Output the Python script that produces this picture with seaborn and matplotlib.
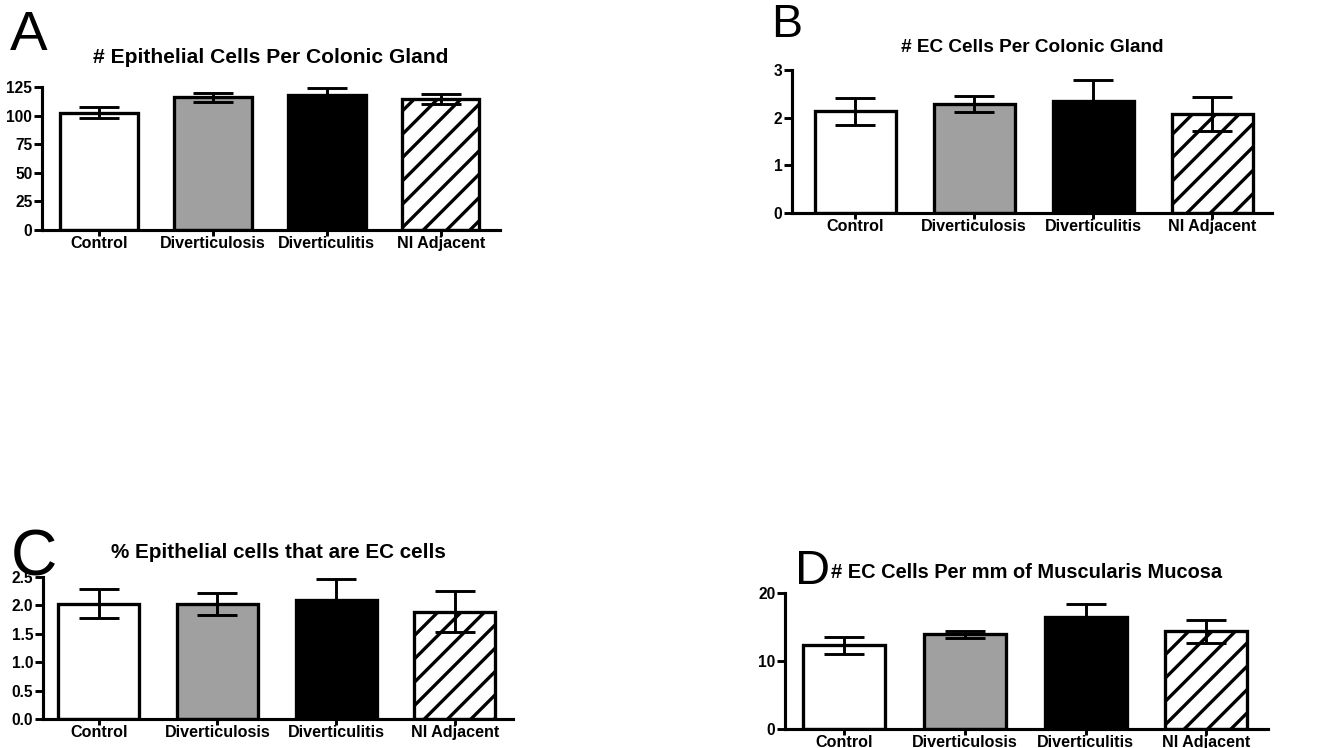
import numpy as np
import pandas as pd
import matplotlib
matplotlib.use("Agg")
import matplotlib.pyplot as plt
import seaborn as sns

# data (mean and error bar half-length)
groups = ["Control", "Diverticulosis", "Diverticulitis", "NI Adjacent"]
bar_colors = ["white", "#a0a0a0", "black", "white"]

epi_mean = [102.5, 116.0, 118.0, 114.5]
epi_err = [5.0, 4.0, 6.0, 4.2]

ec_mean = [2.13, 2.29, 2.36, 2.07]
ec_err = [0.28, 0.17, 0.43, 0.36]

pct_mean = [2.03, 2.02, 2.09, 1.89]
pct_err = [0.26, 0.19, 0.38, 0.36]

mm_mean = [12.3, 13.93, 16.4, 14.37]
mm_err = [1.2, 0.5, 1.95, 1.7]

titles = ["# Epithelial Cells Per Colonic Gland",
          "# EC Cells Per Colonic Gland",
          "% Epithelial cells that are EC cells",
          "# EC Cells Per mm of Muscularis Mucosa"]
yticks = [[0, 25, 50, 75, 100, 125], [0, 1, 2, 3],
          [0.0, 0.5, 1.0, 1.5, 2.0, 2.5], [0, 10, 20]]
ytick_labels = [["0", "25", "50", "75", "100", "125"], ["0", "1", "2", "3"],
                ["0.0", "0.5", "1.0", "1.5", "2.0", "2.5"], ["0", "10", "20"]]
letters = ["A", "B", "C", "D"]

sns.set_style("ticks")
plt.rcParams["font.family"] = ["Liberation Sans", "DejaVu Sans"]
plt.rcParams["hatch.linewidth"] = 1.7
for k in ["text.color", "axes.labelcolor", "xtick.color", "ytick.color",
          "axes.edgecolor"]:
    plt.rcParams[k] = "black"

W, H, DPI = 1339, 748, 140
fig = plt.figure(figsize=(W / DPI, H / DPI), dpi=DPI)

# axes boxes in pixels: left, top, right, bottom
boxes = [(42, 87, 500, 230), (792, 70, 1272, 213),
         (43, 577, 513, 719), (785, 593, 1268, 729)]
xlims = [(-0.5, 3.52), (-0.53, 3.5), (-0.47, 3.49), (-0.49, 3.51)]
title_pads = [12.3, 9.3, 9.8, 7.7]
title_sizes = [10.8, 9.8, 10.6, 10.3]
# letter: x px, baseline px, size pt
letter_pos = [(10, 50, 29), (771, 37, 24), (11, 576, 33), (795, 584, 25)]

means = [epi_mean, ec_mean, pct_mean, mm_mean]
errs = [epi_err, ec_err, pct_err, mm_err]

for i in range(4):
    l, t, r, b = boxes[i]
    ax = fig.add_axes([l / W, 1 - b / H, (r - l) / W, (b - t) / H])
    df = pd.DataFrame({"group": groups, "value": means[i]})
    sns.barplot(data=df, x="group", y="value", hue="group", palette=bar_colors,
                legend=False, width=0.68, edgecolor="black", linewidth=1.7,
                errorbar=None, ax=ax)
    ax.patches[3].set_hatch("//")
    ax.errorbar(x=np.arange(4), y=means[i], yerr=errs[i], fmt="none",
                ecolor="black", elinewidth=1.5, capsize=10.3, capthick=1.5,
                zorder=5)
    ax.set_xlim(*xlims[i])
    ax.set_ylim(yticks[i][0], yticks[i][-1])
    ax.set_yticks(yticks[i])
    ax.set_yticklabels(ytick_labels[i], fontsize=8, fontweight="bold")
    ax.set_xticks(range(4))
    ax.set_xticklabels(groups, fontsize=8.3, fontweight="bold")
    ax.set_xlabel("")
    ax.set_ylabel("")
    ax.set_title(titles[i], fontsize=title_sizes[i], fontweight="bold",
                 pad=title_pads[i])
    sns.despine(ax=ax)
    for s in ["left", "bottom"]:
        ax.spines[s].set_linewidth(1.6)
    ax.tick_params(axis="y", width=1.5, length=4, pad=1)
    ax.tick_params(axis="x", width=1.5, length=3, pad=0.3)
    lx, ly, ls = letter_pos[i]
    fig.text(lx / W, 1 - ly / H, letters[i], fontsize=ls, va="baseline",
             ha="left", fontweight="normal")

fig.savefig("out.png", dpi=DPI)
